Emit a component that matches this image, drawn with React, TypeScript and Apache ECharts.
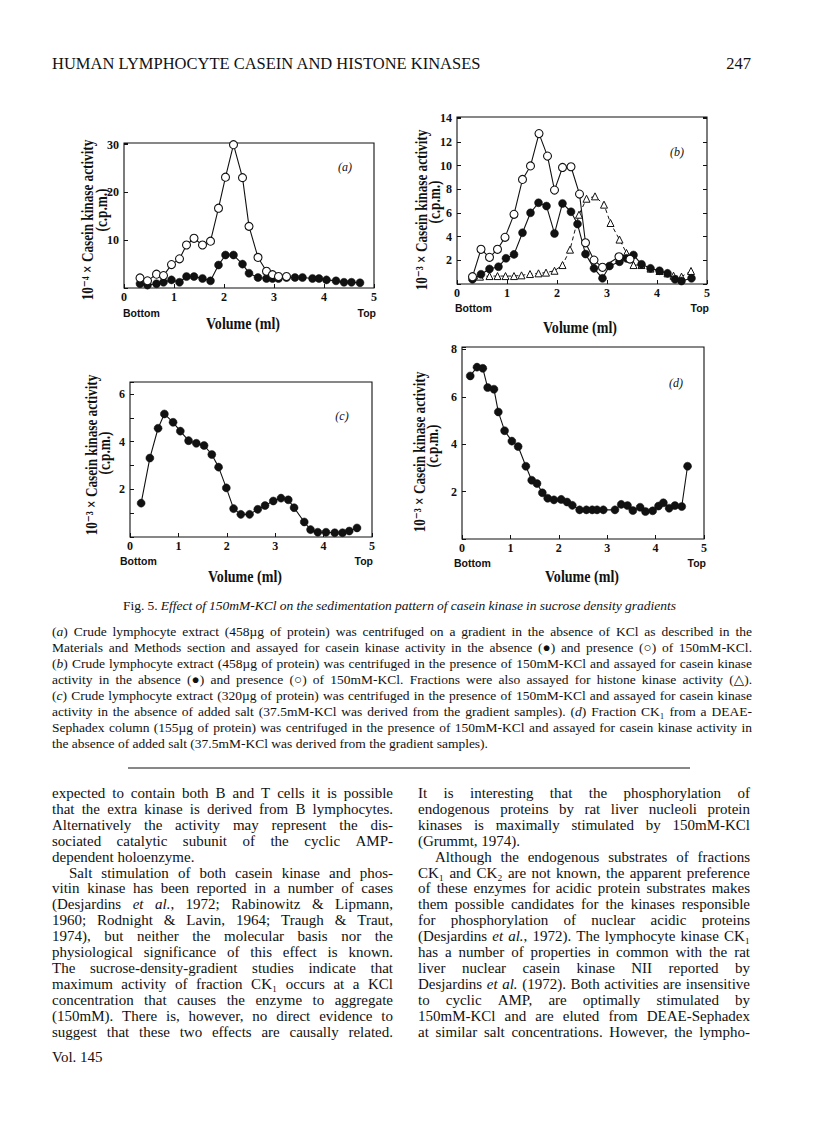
import React, { useEffect, useRef } from 'react';
import * as echarts from 'echarts';

const SERIF = '"Liberation Serif", "Times New Roman", "DejaVu Serif", serif';
const SANS = '"Liberation Sans", Arial, "DejaVu Sans", sans-serif';
const INK = '#111111';

// ---------------- data ----------------
const xTicks = ['0', '1', '2', '3', '4', '5'];

// (a) 10^-4 x casein kinase activity
const aXOpen = [0.32, 0.47, 0.65, 0.79, 0.95, 1.11, 1.25, 1.4, 1.57, 1.73, 1.89, 2.03, 2.19, 2.37, 2.5, 2.68, 2.85, 2.97, 3.09, 3.25];
const aYOpen = [2.1, 1.5, 2.9, 2.6, 4.9, 6.1, 9.0, 10.4, 9.0, 9.8, 16.7, 23.2, 30, 23.1, 12.9, 6.4, 3.5, 2.8, 2.4, 2.4];
const aXFilled = [0.32, 0.47, 0.65, 0.79, 0.95, 1.11, 1.25, 1.4, 1.57, 1.73, 1.89, 2.03, 2.19, 2.37, 2.5, 2.68, 2.85, 2.97, 3.09, 3.25, 3.42, 3.57, 3.77, 3.9, 4.05, 4.24, 4.4, 4.55, 4.72];
const aYFilled = [0.9, 0.6, 0.9, 1.2, 1.7, 1.2, 2.4, 2.4, 2.0, 1.5, 4.8, 6.9, 6.9, 5.0, 3.1, 2.2, 2.0, 2.0, 2.0, 2.2, 2.2, 2.2, 2.0, 2.0, 1.7, 1.5, 1.2, 1.2, 1.1];

// (b)
const bXOpen = [0.31, 0.48, 0.65, 0.81, 0.96, 1.14, 1.31, 1.47, 1.64, 1.81, 1.95, 2.11, 2.28, 2.45, 2.57, 2.74, 2.91, 3.24, 3.46];
const bYOpen = [0.62, 2.93, 2.25, 2.93, 3.94, 5.88, 8.83, 9.97, 12.7, 10.8, 7.93, 9.84, 9.9, 7.59, 3.48, 2.02, 1.41, 2.3, 2.1];
const bXFilled = [0.31, 0.48, 0.65, 0.83, 0.98, 1.14, 1.31, 1.47, 1.63, 1.79, 1.95, 2.11, 2.28, 2.41, 2.57, 2.74, 2.91, 3.05, 3.25, 3.39, 3.53, 3.69, 3.87, 4.05, 4.21, 4.36, 4.49, 4.69];
const bYFilled = [0.4, 0.82, 1.27, 1.46, 2.17, 2.5, 4.33, 6.01, 6.86, 6.58, 4.27, 6.8, 6.1, 5.06, 2.53, 1.32, 0.48, 1.52, 1.88, 2.17, 2.45, 1.66, 1.32, 1.12, 0.9, 0.4, 0.25, 0.48];
const bXHistone = [0.31, 0.46, 0.65, 0.81, 0.97, 1.14, 1.29, 1.46, 1.63, 1.78, 1.95, 2.11, 2.26, 2.44, 2.59, 2.76, 2.94, 3.07, 3.25, 3.39, 3.53, 3.69, 3.87, 4.05, 4.21, 4.33, 4.49, 4.68];
const bYHistone = [0.55, 0.62, 0.67, 0.67, 0.67, 0.67, 0.73, 0.84, 0.9, 0.96, 1.12, 1.6, 2.9, 5.85, 7.2, 7.4, 6.7, 5.15, 3.75, 2.62, 1.6, 1.6, 1.3, 1.1, 0.9, 0.7, 0.62, 1.1];

// (c)
const cX = [0.23, 0.41, 0.58, 0.71, 0.89, 1.04, 1.21, 1.37, 1.53, 1.69, 1.83, 1.99, 2.14, 2.29, 2.47, 2.64, 2.79, 2.96, 3.12, 3.27, 3.39, 3.6, 3.73, 3.88, 4.05, 4.23, 4.39, 4.53, 4.69];
const cY = [1.42, 3.31, 4.56, 5.16, 4.81, 4.44, 4.04, 3.93, 3.84, 3.46, 2.93, 2.06, 1.19, 0.95, 0.95, 1.16, 1.32, 1.51, 1.63, 1.56, 1.23, 0.63, 0.31, 0.2, 0.2, 0.18, 0.18, 0.25, 0.38];

// (d)
const dX = [0.17, 0.31, 0.43, 0.53, 0.66, 0.75, 0.88, 1.03, 1.16, 1.32, 1.44, 1.55, 1.66, 1.77, 1.9, 2.05, 2.17, 2.28, 2.43, 2.57, 2.69, 2.79, 2.92, 3.16, 3.29, 3.42, 3.53, 3.68, 3.79, 3.94, 4.06, 4.16, 4.28, 4.4, 4.54, 4.66];
const dY = [6.88, 7.25, 7.2, 6.39, 6.32, 5.36, 4.57, 4.13, 3.9, 3.07, 2.48, 2.34, 1.95, 1.72, 1.65, 1.67, 1.56, 1.42, 1.23, 1.23, 1.23, 1.23, 1.23, 1.23, 1.46, 1.41, 1.2, 1.34, 1.16, 1.19, 1.39, 1.53, 1.3, 1.41, 1.37, 3.07];

const yMaxes = [30.35, 14.1, 6.5, 8.1];
const yIntervals = [10, 2, 1, 2];
const yLabelSteps = [10, 2, 2, 2];
const panelLetters = ['a', 'b', 'c', 'd'];
const yTitles = ['10⁻⁴ × Casein kinase activity', '10⁻³ × Casein kinase activity', '10⁻³ × Casein kinase activity', '10⁻³ × Casein kinase activity'];

// ---------------- text ----------------
const header = 'HUMAN LYMPHOCYTE CASEIN AND HISTONE KINASES';
const pageNo = '247';
const figTitle = 'Fig. 5. _Effect_ _of_ _150mM-KCl_ _on_ _the_ _sedimentation_ _pattern_ _of_ _casein_ _kinase_ _in_ _sucrose_ _density_ _gradients_';
const captionLines: [string, boolean][] = [
  ['(_a_) Crude lymphocyte extract (458µg of protein) was centrifuged on a gradient in the absence of KCl as described in the', true],
  ['Materials and Methods section and assayed for casein kinase activity in the absence (●) and presence (○) of 150mM-KCl.', true],
  ['(_b_) Crude lymphocyte extract (458µg of protein) was centrifuged in the presence of 150mM-KCl and assayed for casein kinase', true],
  ['activity in the absence (●) and presence (○) of 150mM-KCl. Fractions were also assayed for histone kinase activity (△).', true],
  ['(_c_) Crude lymphocyte extract (320µg of protein) was centrifuged in the presence of 150mM-KCl and assayed for casein kinase', true],
  ['activity in the absence of added salt (37.5mM-KCl was derived from the gradient samples). (_d_) Fraction CK₁ from a DEAE-', true],
  ['Sephadex column (155µg of protein) was centrifuged in the presence of 150mM-KCl and assayed for casein kinase activity in', true],
  ['the absence of added salt (37.5mM-KCl was derived from the gradient samples).', false],
];
const leftCol: [string, boolean, boolean][] = [
  ['expected to contain both B and T cells it is possible', true, false],
  ['that the extra kinase is derived from B lymphocytes.', true, false],
  ['Alternatively the activity may represent the dis-', true, false],
  ['sociated catalytic subunit of the cyclic AMP-', true, false],
  ['dependent holoenzyme.', false, false],
  ['Salt stimulation of both casein kinase and phos-', true, true],
  ['vitin kinase has been reported in a number of cases', true, false],
  ['(Desjardins _et_ _al._, 1972; Rabinowitz & Lipmann,', true, false],
  ['1960; Rodnight & Lavin, 1964; Traugh & Traut,', true, false],
  ['1974), but neither the molecular basis nor the', true, false],
  ['physiological significance of this effect is known.', true, false],
  ['The sucrose-density-gradient studies indicate that', true, false],
  ['maximum activity of fraction CK₁ occurs at a KCl', true, false],
  ['concentration that causes the enzyme to aggregate', true, false],
  ['(150mM). There is, however, no direct evidence to', true, false],
  ['suggest that these two effects are causally related.', true, false],
];
const rightCol: [string, boolean, boolean][] = [
  ['It is interesting that the phosphorylation of', true, false],
  ['endogenous proteins by rat liver nucleoli protein', true, false],
  ['kinases is maximally stimulated by 150mM-KCl', true, false],
  ['(Grummt, 1974).', false, false],
  ['Although the endogenous substrates of fractions', true, true],
  ['CK₁ and CK₂ are not known, the apparent preference', true, false],
  ['of these enzymes for acidic protein substrates makes', true, false],
  ['them possible candidates for the kinases responsible', true, false],
  ['for phosphorylation of nuclear acidic proteins', true, false],
  ['(Desjardins _et_ _al._, 1972). The lymphocyte kinase CK₁', true, false],
  ['has a number of properties in common with the rat', true, false],
  ['liver nuclear casein kinase NII reported by', true, false],
  ['Desjardins _et_ _al._ (1972). Both activities are insensitive', true, false],
  ['to cyclic AMP, are optimally stimulated by', true, false],
  ['150mM-KCl and are eluted from DEAE-Sephadex', true, false],
  ['at similar salt concentrations. However, the lympho-', true, false],
];
const footer = 'Vol. 145';

// ---------------- layout ----------------
const grids = [
  { left: 124, top: 143, width: 250, height: 145 },
  { left: 457, top: 117, width: 250, height: 167 },
  { left: 130, top: 382, width: 242, height: 155 },
  { left: 462, top: 347, width: 242, height: 192 },
];
const letterPos = [[345, 167], [677, 152], [342, 416], [676, 383]];
const yTitlePos = [
  { l1: [88, 220], l2: [102, 210] },
  { l1: [422, 210], l2: [435, 202] },
  { l1: [92, 455], l2: [105, 453] },
  { l1: [420, 452], l2: [433, 446] },
];
const volumePos = [[243, 324], [580, 328], [245, 577], [582, 577]];
const bottomTopPos = [
  { b: [123, 313], t: [376, 313] },
  { b: [455, 308], t: [709, 308] },
  { b: [120, 561], t: [373, 561] },
  { b: [454, 563], t: [706, 563] },
];

let measureCtx: CanvasRenderingContext2D | null = null;
function measure(text: string, font: string): number {
  if (!measureCtx) measureCtx = document.createElement('canvas').getContext('2d');
  measureCtx!.font = font;
  return measureCtx!.measureText(text).width;
}
function fontStr(size: number, italic = false, bold = false, family = SERIF) {
  return `${italic ? 'italic ' : ''}${bold ? 'bold ' : ''}${size}px ${family}`;
}
function txt(text: string, x: number, y: number, font: string, align = 'left', extra: any = {}) {
  return {
    type: 'text', x, y, silent: true, ...extra,
    style: { text, font, fill: INK, align, textAlign: align, verticalAlign: 'middle', textVerticalAlign: 'middle' },
  };
}

function layoutLine(line: string, x0: number, x1: number, y: number, size: number, justify: boolean, els: any[]) {
  const tokens = line.split(' ').filter((t) => t.length);
  const parsed = tokens.map((tok) => {
    const parts = tok.split('_').map((s, i) => ({ s, it: i % 2 === 1 })).filter((p) => p.s.length);
    const widths = parts.map((p) => measure(p.s, fontStr(size, p.it)));
    return { parts, widths, w: widths.reduce((a, b) => a + b, 0) };
  });
  const sumW = parsed.reduce((a, p) => a + p.w, 0);
  const space = measure(' ', fontStr(size));
  let gap = space;
  let scale = 1;
  if (justify && parsed.length > 1) {
    gap = (x1 - x0 - sumW) / (parsed.length - 1);
    const minGap = space * 0.45;
    if (gap < minGap) {
      scale = (x1 - x0 - minGap * (parsed.length - 1)) / sumW;
      gap = minGap;
    }
  }
  let x = x0;
  parsed.forEach((p) => {
    p.parts.forEach((part, i) => {
      els.push(txt(part.s, x, y, fontStr(size, part.it), 'left', scale !== 1 ? { scaleX: scale } : {}));
      x += p.widths[i] * scale;
    });
    x += gap;
  });
}

function fitted(text: string, x: number, y: number, font: string, target: number, extra: any = {}) {
  const w = measure(text, font);
  return txt(text, x, y, font, 'center', { scaleX: target / w, ...extra });
}

function buildOption() {
  const zip = (xs: number[], ys: number[]) => xs.map((x, i) => [x, ys[i]]);
  const filled = (name: string, idx: number, xs: number[], ys: number[]) => ({
    name, type: 'line', xAxisIndex: idx, yAxisIndex: idx, data: zip(xs, ys),
    symbol: 'circle', symbolSize: 8, z: 3,
    itemStyle: { color: INK, borderColor: INK, borderWidth: 0.5 },
    lineStyle: { color: INK, width: 1.1 },
    emphasis: { disabled: true },
  });
  const open = (name: string, idx: number, xs: number[], ys: number[]) => ({
    name, type: 'line', xAxisIndex: idx, yAxisIndex: idx, data: zip(xs, ys),
    symbol: 'circle', symbolSize: 8, z: 4,
    itemStyle: { color: '#ffffff', borderColor: INK, borderWidth: 1.1 },
    lineStyle: { color: INK, width: 1.1 },
    emphasis: { disabled: true },
  });

  const xAxes = grids.map((_, i) => ({
    type: 'value', gridIndex: i, min: 0, max: 5, interval: 1,
    axisLine: { show: false },
    axisTick: { show: true, inside: true, length: 4, lineStyle: { color: INK, width: 1 } },
    splitLine: { show: false },
    axisLabel: {
      margin: 3, color: INK, fontFamily: SERIF, fontWeight: 'bold', fontSize: 12,
      formatter: (v: number) => xTicks[Math.round(v)] ?? '',
    },
  }));
  const yAxes: any[] = grids.map((_, i) => ({
    type: 'value', gridIndex: i, min: 0, max: yMaxes[i], interval: yIntervals[i],
    axisLine: { show: false },
    axisTick: { show: true, inside: true, length: 4, lineStyle: { color: INK, width: 1 } },
    splitLine: { show: false },
    axisLabel: {
      margin: 5, color: INK, fontFamily: SERIF, fontWeight: 'bold', fontSize: 12,
      formatter: (v: number) => {
        const k = v / yLabelSteps[i];
        return v > 0 && Math.abs(k - Math.round(k)) < 1e-6 ? String(Math.round(v)) : '';
      },
    },
  }));
  // right-hand ticks of panel (b)
  yAxes.push({
    type: 'value', gridIndex: 1, position: 'right', min: 0, max: yMaxes[1], interval: yIntervals[1],
    axisLine: { show: false }, splitLine: { show: false }, axisLabel: { show: false },
    axisTick: { show: true, inside: true, length: 4, lineStyle: { color: INK, width: 1 } },
  });

  const series: any[] = [
    filled('a absence', 0, aXFilled, aYFilled),
    open('a presence', 0, aXOpen, aYOpen),
    filled('b absence', 1, bXFilled, bYFilled),
    open('b presence', 1, bXOpen, bYOpen),
    {
      name: 'b histone', type: 'line', xAxisIndex: 1, yAxisIndex: 1, data: zip(bXHistone, bYHistone),
      symbol: 'triangle', symbolSize: 7, z: 2,
      itemStyle: { color: '#ffffff', borderColor: INK, borderWidth: 1 },
      lineStyle: { color: INK, width: 1, type: [4, 3] },
      emphasis: { disabled: true },
    },
    filled('c', 2, cX, cY),
    filled('d', 3, dX, dY),
  ];

  const els: any[] = [];
  // running head
  els.push(txt(header, 52, 63, fontStr(16.5)));
  els.push(txt(pageNo, 751, 63, fontStr(16.5), 'right'));

  // panel decorations
  grids.forEach((g, i) => {
    els.push(txt(`(${panelLetters[i]})`, letterPos[i][0], letterPos[i][1], fontStr(12, true), 'center'));
    const p = yTitlePos[i];
    els.push(fitted(yTitles[i], p.l1[0], p.l1[1], fontStr(16, false, true), 161, { rotation: Math.PI / 2 }));
    els.push(fitted('(c.p.m.)', p.l2[0], p.l2[1], fontStr(16, false, true), 43, { rotation: Math.PI / 2 }));
    els.push(fitted('Volume (ml)', volumePos[i][0], volumePos[i][1], fontStr(16, false, true), 74));
    const bt = bottomTopPos[i];
    els.push(txt('Bottom', bt.b[0], bt.b[1], fontStr(10.5, false, true, SANS), 'left'));
    els.push(txt('Top', bt.t[0], bt.t[1], fontStr(10.5, false, true, SANS), 'right'));
  });

  // figure caption
  layoutLine(figTitle, 123, 676, 605, 13.5, true, els);
  captionLines.forEach(([line, j], i) => layoutLine(line, 52, 752, 631 + i * 16.1, 13.5, j, els));
  els.push({
    type: 'line', silent: true,
    shape: { x1: 128, y1: 768, x2: 690, y2: 768 },
    style: { stroke: INK, lineWidth: 1 },
  });

  // body text columns
  const lh = 15.9;
  leftCol.forEach(([line, j, ind], i) => layoutLine(line, ind ? 69 : 52, 393, 793 + i * lh, 15, j, els));
  rightCol.forEach(([line, j, ind], i) => layoutLine(line, ind ? 435 : 418, 750, 793 + i * lh, 15, j, els));
  els.push(txt(footer, 52, 1057, fontStr(15)));

  return {
    animation: false,
    backgroundColor: '#ffffff',
    grid: grids.map((g) => ({ ...g, show: true, borderColor: INK, borderWidth: 1.1, backgroundColor: 'transparent' })),
    xAxis: xAxes,
    yAxis: yAxes,
    series,
    graphic: { elements: els },
  };
}

export default function App() {
  const ref = useRef<HTMLDivElement>(null);
  useEffect(() => {
    if (!ref.current) return;
    const chart = echarts.init(ref.current, null, { renderer: 'svg' });
    chart.setOption(buildOption() as any);
    return () => chart.dispose();
  }, []);
  return (
    <div
      ref={ref}
      style={{ position: 'absolute', left: 0, top: 0, width: 816, height: 1136, background: '#ffffff' }}
    />
  );
}
